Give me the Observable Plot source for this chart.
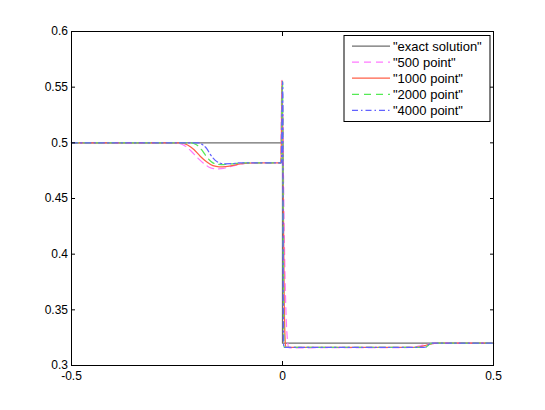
<!DOCTYPE html>
<html>
<head>
<meta charset="utf-8">
<script src="https://cdn.jsdelivr.net/npm/d3@7"></script>
<script src="https://cdn.jsdelivr.net/npm/@observablehq/plot@0.6"></script>
<style>
  html, body { margin: 0; padding: 0; background: #fff; }
  #chart { position: relative; width: 545px; height: 410px; }
</style>
</head>
<body>
<div id="chart"></div>
<script>
// ---- data ----
const seriesNames = ['"exact solution"', '"500 point"', '"1000 point"', '"2000 point"', '"4000 point"'];

const exactX = [-0.5, 0, 0, 0.5];
const exactY = [0.5, 0.5, 0.32, 0.32];

const p500X = [-0.5, -0.26, -0.245, -0.23, -0.215, -0.2, -0.185, -0.17, -0.155, -0.14, -0.125, -0.11, -0.095, -0.08, -0.06, -0.0045, -0.003, -0.0015, 0.0005, 0.003, 0.006, 0.009, 0.012, 0.015, 0.02, 0.1, 0.2, 0.3, 0.31, 0.32, 0.33, 0.34, 0.35, 0.36, 0.37, 0.5];
const p500Y = [0.5, 0.5, 0.4995, 0.497, 0.492, 0.486, 0.481, 0.4775, 0.4765, 0.477, 0.4785, 0.48, 0.4812, 0.4818, 0.482, 0.482, 0.52, 0.556, 0.53, 0.45, 0.38, 0.34, 0.322, 0.316, 0.3158, 0.316, 0.316, 0.3162, 0.3165, 0.3172, 0.318, 0.3188, 0.3194, 0.3198, 0.32, 0.32];

const p1000X = [-0.5, -0.24, -0.225, -0.21, -0.195, -0.18, -0.165, -0.15, -0.135, -0.12, -0.1, -0.08, -0.06, -0.0035, -0.002, -0.001, 0.002, 0.004, 0.006, 0.008, 0.02, 0.1, 0.2, 0.31, 0.32, 0.33, 0.34, 0.35, 0.36, 0.37, 0.5];
const p1000Y = [0.5, 0.5, 0.498, 0.494, 0.488, 0.483, 0.4795, 0.4785, 0.4787, 0.4795, 0.481, 0.4818, 0.482, 0.482, 0.53, 0.556, 0.45, 0.36, 0.325, 0.3162, 0.3162, 0.3162, 0.3162, 0.3162, 0.3165, 0.3172, 0.3182, 0.3192, 0.3198, 0.32, 0.32];

const p2000X = [-0.5, -0.22, -0.205, -0.19, -0.18, -0.17, -0.16, -0.145, -0.13, -0.11, -0.09, -0.003, -0.0015, 0, 0.002, 0.003, 0.004, 0.02, 0.1, 0.2, 0.33, 0.34, 0.345, 0.35, 0.36, 0.5];
const p2000Y = [0.5, 0.5, 0.4985, 0.493, 0.4875, 0.4835, 0.4812, 0.4805, 0.4808, 0.4815, 0.482, 0.482, 0.53, 0.555, 0.4, 0.33, 0.3162, 0.3162, 0.3162, 0.3162, 0.3162, 0.3166, 0.318, 0.3195, 0.32, 0.32];

const p4000X = [-0.5, -0.2, -0.19, -0.18, -0.17, -0.16, -0.15, -0.14, -0.12, -0.1, -0.0025, -0.001, 0.0005, 0.0015, 0.0025, 0.0035, 0.02, 0.1, 0.2, 0.335, 0.34, 0.345, 0.35, 0.355, 0.5];
const p4000Y = [0.5, 0.5, 0.4985, 0.495, 0.489, 0.4845, 0.482, 0.4812, 0.4813, 0.482, 0.482, 0.53, 0.555, 0.4, 0.32, 0.3162, 0.3162, 0.3162, 0.3162, 0.3162, 0.3166, 0.3185, 0.3197, 0.32, 0.32];

const xTicks = [-0.5, 0, 0.5];
const xTickLabels = ["-0.5", "0", "0.5"];
const yTicks = [0.3, 0.35, 0.4, 0.45, 0.5, 0.55, 0.6];
const yTickLabels = ["0.3", "0.35", "0.4", "0.45", "0.5", "0.55", "0.6"];

// ---- styles ----
const colors = ["#6e6e6e", "#ff7aff", "#ff6048", "#55ea55", "#6262ff"];
const dashes = [null, "7,5", null, "7,5", "6,3,1.5,3"];

const xsList = [exactX, p500X, p1000X, p2000X, p4000X];
const ysList = [exactY, p500Y, p1000Y, p2000Y, p4000Y];

const lineMarks = xsList.map((xs, i) => {
  const data = xs.map((x, j) => ({x, y: ysList[i][j]}));
  return Plot.line(data, {
    x: "x", y: "y",
    stroke: colors[i],
    strokeWidth: 1.25,
    strokeDasharray: dashes[i],
    curve: i === 0 ? "linear" : "monotone-x"
  });
});

const plot = Plot.plot({
  width: 545,
  height: 410,
  marginLeft: 71,
  marginRight: 52,
  marginTop: 31,
  marginBottom: 45,
  style: {fontFamily: "'Liberation Sans', Arial, Helvetica, sans-serif", fontSize: "12px", background: "#fff", color: "#000"},
  x: {domain: [-0.5, 0.5], label: null},
  y: {domain: [0.3, 0.6], label: null},
  marks: [
    ...lineMarks,
    Plot.frame({stroke: "#000", strokeWidth: 1}),
    Plot.axisX(xTicks, {anchor: "bottom", tickSize: -4, tickPadding: 10, tickFormat: (d, i) => xTickLabels[i], label: null}),
    Plot.axisX(xTicks, {anchor: "top", tickSize: -4, tickFormat: () => "", label: null}),
    Plot.axisY(yTicks, {anchor: "left", tickSize: -4, tickPadding: 7.5, tickFormat: (d, i) => yTickLabels[i], label: null}),
    Plot.axisY(yTicks, {anchor: "right", tickSize: -4, tickFormat: () => "", label: null})
  ]
});

document.getElementById("chart").appendChild(plot);

// ---- legend ----
const svg = d3.select(plot);
const lg = svg.append("g").attr("transform", "translate(344,35.5)");
lg.append("rect").attr("x", 0).attr("y", 0).attr("width", 146).attr("height", 86)
  .attr("fill", "#fff").attr("stroke", "#000").attr("stroke-width", 1);
seriesNames.forEach((name, i) => {
  const yy = 10.5 + i * 16.1;
  lg.append("line").attr("x1", 8).attr("x2", 46).attr("y1", yy).attr("y2", yy)
    .attr("stroke", colors[i]).attr("stroke-width", 1.25)
    .attr("stroke-dasharray", dashes[i]);
  lg.append("text").attr("x", 49).attr("y", yy).attr("dy", "0.35em")
    .attr("text-anchor", "start")
    .attr("font-size", "13px").attr("fill", "#000").text(name);
});
</script>
</body>
</html>
